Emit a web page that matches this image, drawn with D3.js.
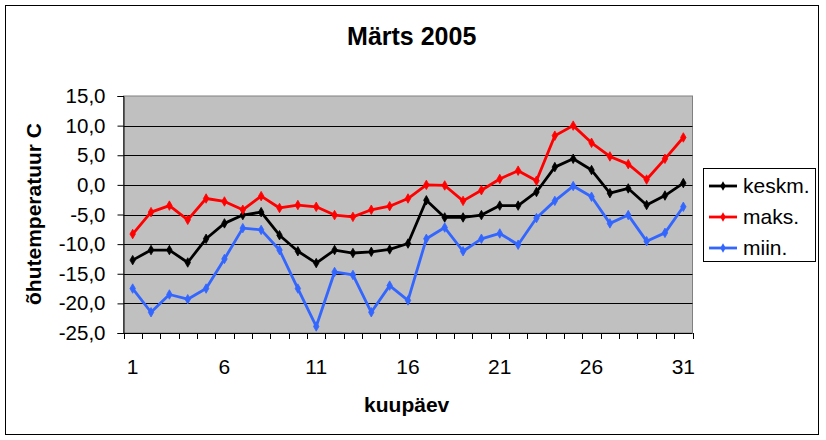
<!DOCTYPE html>
<html><head><meta charset="utf-8">
<script src="https://cdn.jsdelivr.net/npm/d3@7"></script>
<style>body{margin:0;background:#fff;}svg{display:block;font-family:"Liberation Sans",Arial,sans-serif;}</style>
</head><body>
<svg id="c" width="826" height="440"></svg>
<script>
const days = d3.range(1, 32);
const keskm = [-12.7,-11.0,-11.0,-13.1,-9.1,-6.5,-5.1,-4.6,-8.5,-11.2,-13.2,-11.0,-11.5,-11.3,-10.9,-9.9,-2.6,-5.5,-5.5,-5.1,-3.5,-3.5,-1.2,3.0,4.4,2.5,-1.4,-0.6,-3.4,-1.8,0.3];
const maks = [-8.3,-4.6,-3.5,-5.9,-2.3,-2.8,-4.2,-1.9,-3.9,-3.4,-3.7,-5.1,-5.4,-4.2,-3.6,-2.3,0.0,-0.1,-2.7,-0.9,1.0,2.4,0.7,8.3,10.0,7.1,4.8,3.5,0.9,4.4,8.0];
const miin = [-17.5,-21.5,-18.5,-19.3,-17.5,-12.5,-7.3,-7.6,-11.0,-17.5,-23.9,-14.7,-15.2,-21.5,-17.0,-19.5,-9.1,-7.2,-11.2,-9.1,-8.2,-10.1,-5.6,-2.7,-0.2,-2.0,-6.5,-5.1,-9.5,-8.1,-3.7];
const yTicks = [15,10,5,0,-5,-10,-15,-20,-25];
const xLabels = [1,6,11,16,21,26,31];
const seriesNames = ["keskm.","maks.","miin."];
const seriesColors = ["#000000","#FF0000","#3366FF"];
const seriesData = [keskm, maks, miin];

const svg = d3.select("#c");
const L = 123.5, R = 692.5, T = 96, B = 333;
const x = d3.scaleBand().domain(days).range([L, R]).paddingInner(0).paddingOuter(0);
const y = d3.scaleLinear().domain([-25, 15]).range([B, T]);
const fmt = v => d3.format(".1f")(v).replace(".", ",").replace("\u2212", "-");

// outer border
svg.append("rect").attr("x",5.5).attr("y",5.5).attr("width",813).attr("height",429)
  .attr("fill","#fff").attr("stroke","#000").attr("stroke-width",1);

// plot area
svg.append("rect").attr("x",L).attr("y",T).attr("width",R-L).attr("height",B-T)
  .attr("fill","#C0C0C0").attr("stroke","#808080").attr("stroke-width",1);

// gridlines
svg.append("g").selectAll("line").data(yTicks.filter(v => v !== 15 && v !== -25)).join("line")
  .attr("x1",L).attr("x2",R).attr("y1",d=>Math.round(y(d))+0.5).attr("y2",d=>Math.round(y(d))+0.5)
  .attr("stroke","#000").attr("stroke-width",1);

// y axis
const yAxis = d3.axisLeft(y).tickValues(yTicks).tickSize(6).tickPadding(12).tickFormat(fmt);
const gy = svg.append("g").attr("transform",`translate(${L},0)`).call(yAxis);
gy.select(".domain").attr("stroke","#000");
gy.selectAll(".tick line").attr("stroke","#000");
gy.selectAll("text").attr("font-size","20.5px").attr("fill","#000")
  .attr("font-family",'"Liberation Sans",Arial,sans-serif');

// x axis line and ticks at category boundaries
svg.append("line").attr("x1",L).attr("x2",R).attr("y1",B+0.5).attr("y2",B+0.5).attr("stroke","#000");
const bounds = days.map(d => x(d)).concat([x(31) + x.bandwidth()]);
svg.append("g").selectAll("line").data(bounds).join("line")
  .attr("x1",d=>Math.round(d)+0.5).attr("x2",d=>Math.round(d)+0.5).attr("y1",B).attr("y2",B+6)
  .attr("stroke","#000");
svg.append("g").selectAll("text").data(xLabels).join("text")
  .attr("x",d=>x(d)+x.bandwidth()/2).attr("y",374).attr("text-anchor","middle")
  .attr("font-size","21px").attr("fill","#000").text(d=>d);

// lines
const line = d3.line().x((d,i)=>x(days[i])+x.bandwidth()/2).y(d=>y(d));
const diamond = d3.symbol().type(d3.symbolDiamond).size(26);
seriesData.forEach((data, k) => {
  svg.append("path").datum(data).attr("d", line).attr("fill","none")
    .attr("stroke", seriesColors[k]).attr("stroke-width", 2.8).attr("stroke-linejoin","round");
  svg.append("g").selectAll("path").data(data).join("path")
    .attr("transform",(d,i)=>`translate(${x(days[i])+x.bandwidth()/2},${y(d)})`)
    .attr("d", diamond).attr("fill", seriesColors[k]).attr("stroke", seriesColors[k]).attr("stroke-width",0.8);
});

// titles
svg.append("text").attr("x",411.7).attr("y",45).attr("text-anchor","middle")
  .attr("font-size","25px").attr("font-weight","bold").text("Märts 2005");
svg.append("text").attr("x",406.7).attr("y",411.5).attr("text-anchor","middle")
  .attr("font-size","21px").attr("font-weight","bold").text("kuupäev");
svg.append("text").attr("transform","translate(41,214) rotate(-90)").attr("text-anchor","middle")
  .attr("font-size","21px").attr("font-weight","bold").text("õhutemperatuur C");

// legend
svg.append("rect").attr("x",703.5).attr("y",168.5).attr("width",112).attr("height",93)
  .attr("fill","#fff").attr("stroke","#000").attr("stroke-width",1);
const lg = svg.append("g").selectAll("g").data(seriesNames).join("g")
  .attr("transform",(d,i)=>`translate(0,${186 + i*31})`);
lg.append("line").attr("x1",709).attr("x2",737).attr("y1",0).attr("y2",0)
  .attr("stroke",(d,i)=>seriesColors[i]).attr("stroke-width",2.8);
lg.append("path").attr("transform","translate(723,0)").attr("d",diamond)
  .attr("fill",(d,i)=>seriesColors[i]);
lg.append("text").attr("x",743).attr("y",7).attr("font-size","21px").attr("fill","#000").text(d=>d);
</script>
</body></html>
